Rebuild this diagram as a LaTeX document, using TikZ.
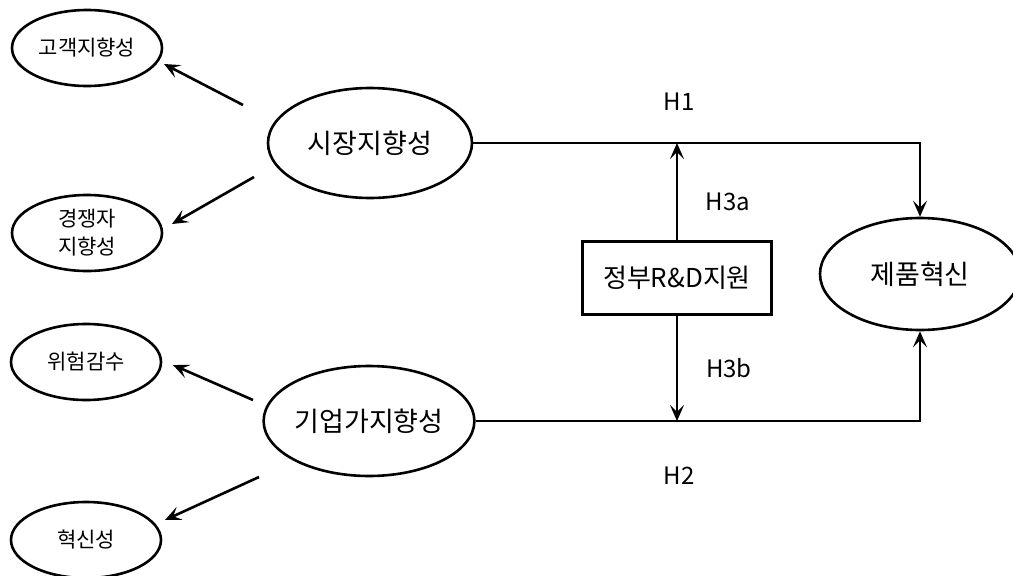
\documentclass[tikz,border=0pt]{standalone}
\usepackage{fontspec}
\setmainfont{Noto Sans CJK KR}
\usetikzlibrary{shapes.geometric,arrows.meta}
\begin{document}
\begin{tikzpicture}[x=1pt,y=-1pt,
  ell/.style={draw,ellipse,line width=2.6pt,inner sep=0pt},
  smallell/.style={ell,minimum width=150pt,minimum height=76pt,font=\fontsize{21}{28}\selectfont,align=center},
  bigell/.style={ell,minimum width=204pt,minimum height=110pt,font=\fontsize{27}{30}\selectfont},
  boxnode/.style={draw,rectangle,line width=2.6pt,minimum width=189pt,minimum height=73pt,inner sep=0pt,font=\fontsize{26}{30}\selectfont},
  conn/.style={line width=2.6pt,-{Stealth[length=16pt,width=14pt,inset=7pt]}},
  lbl/.style={font=\fontsize{24}{28}\selectfont}]
\useasboundingbox (0,0) rectangle (1013,576);
% small ellipses
\node[smallell] (co) at (87,48) {고객지향성};
\node[smallell] (cp) at (87,233) {경쟁자\\지향성};
\node[smallell] (rt) at (86,362) {위험감수};
\node[smallell] (ino) at (86,540) {혁신성};
% main ellipses
\node[bigell] (mo) at (370,143) {시장지향성};
\node[bigell] (eo) at (369,421) {기업가지향성};
\node[bigell,minimum width=200pt,minimum height=112pt] (pi) at (920,274) {제품혁신};
% box
\node[boxnode] (gov) at (677,278) {정부R\&D지원};
% labels
\node[lbl] (h1) at (679,102) {H1};
\node[lbl] (h3a) at (728,202) {H3a};
\node[lbl] (h3b) at (729,368) {H3b};
\node[lbl] (h2) at (679,476) {H2};
% left arrows
\coordinate (a1s) at (243,105); \coordinate (a1e) at (164,64);
\coordinate (a2s) at (254,177); \coordinate (a2e) at (172,224);
\coordinate (a3s) at (253,400); \coordinate (a3e) at (173,365);
\coordinate (a4s) at (259,477); \coordinate (a4e) at (165,520);
\draw[conn] (a1s) -- (a1e);
\draw[conn] (a2s) -- (a2e);
\draw[conn] (a3s) -- (a3e);
\draw[conn] (a4s) -- (a4e);
% main paths
\draw[conn] (mo.east) -| (pi.north);
\draw[conn] (eo.east) -| (pi.south);
\draw[conn] (gov.north) -- (gov.north |- mo.east);
\draw[conn] (gov.south) -- (gov.south |- eo.east);
\end{tikzpicture}
\end{document}
